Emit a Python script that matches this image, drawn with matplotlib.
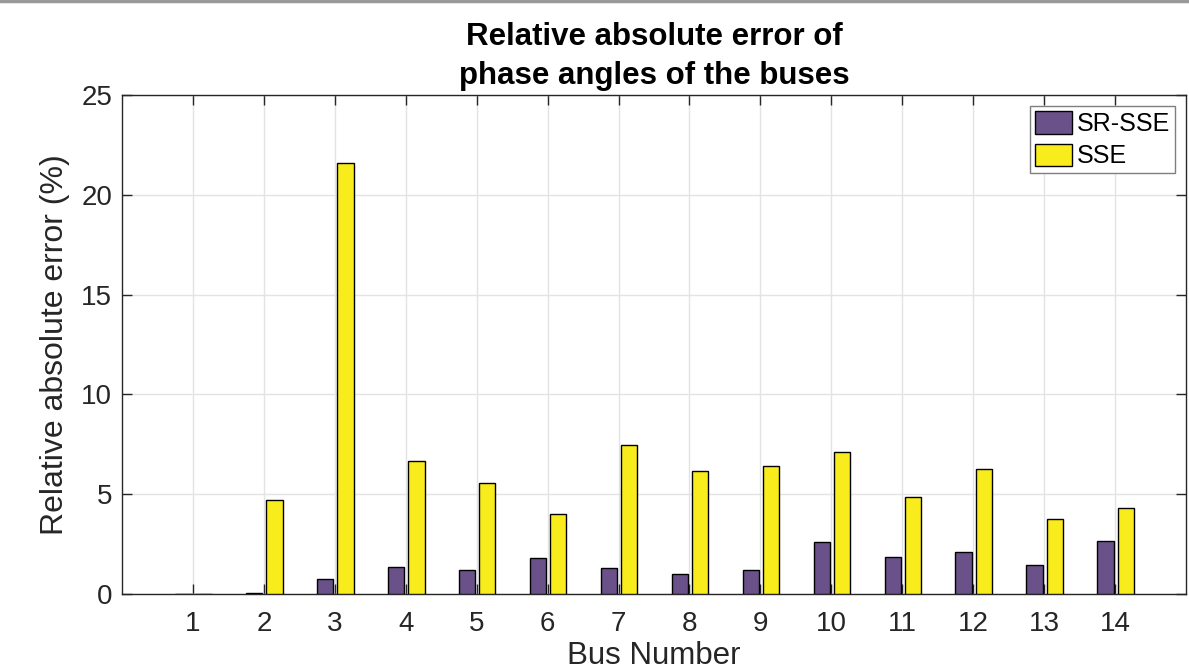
import matplotlib
matplotlib.use("Agg")
import matplotlib.pyplot as plt
import numpy as np
from matplotlib.lines import Line2D

plt.rcParams['font.family'] = ['Liberation Sans', 'DejaVu Sans']

# data
buses = list(range(1, 15))
sr_sse = [0.0, 0.06, 0.75, 1.35, 1.19, 1.82, 1.32, 1.02, 1.20, 2.60, 1.87, 2.10, 1.45, 2.65]
sse = [0.0, 4.71, 21.6, 6.64, 5.56, 3.99, 7.46, 6.15, 6.41, 7.10, 4.86, 6.26, 3.74, 4.31]
series_names = ['SR-SSE', 'SSE']
colors = ['#6a5189', '#f8ec1c']

fig = plt.figure(figsize=(11.89, 6.72), dpi=100)
ax = fig.add_axes([122/1189, 1 - 594/672, (1186-122)/1189, (594-95)/672])

x = np.array(buses)
w = 0.23
ax.bar(x - 0.135, sr_sse, w, color=colors[0], edgecolor='black', linewidth=1.0,
       label=series_names[0], zorder=3)
ax.bar(x + 0.15, sse, w, color=colors[1], edgecolor='black', linewidth=1.0,
       label=series_names[1], zorder=3)

ax.set_xlim(0, 15)
ax.set_ylim(0, 25)
ax.set_xticks(buses)
ax.set_yticks([0, 5, 10, 15, 20, 25])
ax.grid(True, color='#e3e3e3', linewidth=1.0, zorder=0)
ax.set_axisbelow(True)
ax.tick_params(direction='in', length=7, width=1, colors='#262626',
               top=True, right=True, labelsize=20)
ax.tick_params(axis='x', pad=12)
ax.tick_params(axis='y', pad=7)
for s in ax.spines.values():
    s.set_color('#262626')
    s.set_linewidth(1.0)

ax.set_xlabel('Bus Number', fontsize=22.5, color='#262626', labelpad=3)
ax.set_ylabel('Relative absolute error (%)', fontsize=23, color='#262626', labelpad=8)
ax.set_title('Relative absolute error of\nphase angles of the buses',
             fontsize=22.5, fontweight='bold', pad=8, linespacing=1.38)

leg = ax.legend(loc='upper right', fontsize=18, fancybox=False, framealpha=1,
                edgecolor='#7f7f7f', borderpad=0.2, handlelength=1.45,
                handleheight=1.0, handletextpad=0.2, labelspacing=0.3,
                borderaxespad=0.45)
leg.get_frame().set_linewidth(1.0)

# gray border line at the very top of the figure
fig.add_artist(Line2D([0, 1], [0.998, 0.998], transform=fig.transFigure,
                      color='#999999', linewidth=2.5))

fig.savefig('out.png', dpi=100)
